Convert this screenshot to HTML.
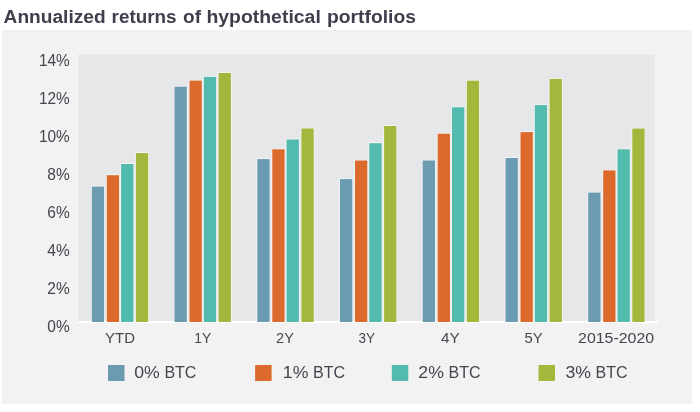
<!DOCTYPE html>
<html lang="en"><head><meta charset="utf-8"><title>Annualized returns of hypothetical portfolios</title>
<style>
html,body{margin:0;padding:0;background:#fff;}
body{width:700px;height:412px;overflow:hidden;font-family:"Liberation Sans",sans-serif;}
svg{display:block;}
text{font-family:"Liberation Sans",sans-serif;fill:#46444f;}
.t{font-weight:bold;font-size:17.5px;fill:#403e4c;}
.y{font-size:16.5px;}
.x{font-size:15px;}
.l{font-size:16.5px;}
</style></head><body>
<svg width="700" height="412" viewBox="0 0 700 412">
<rect x="0" y="0" width="700" height="412" fill="#ffffff"/>
<rect x="2" y="30" width="690" height="374" fill="#f2f2f2"/>
<rect x="78" y="54.6" width="576.7" height="267" fill="#e6e7e9"/>
<rect x="78" y="321" width="580.2" height="2" fill="#ffffff"/>
<text class="t" y="22.9"><tspan x="3.6" textLength="102" lengthAdjust="spacingAndGlyphs">Annualized</tspan> <tspan x="111.6" textLength="65" lengthAdjust="spacingAndGlyphs">returns</tspan> <tspan x="183" textLength="18" lengthAdjust="spacingAndGlyphs">of</tspan> <tspan x="206.4" textLength="114.4" lengthAdjust="spacingAndGlyphs">hypothetical</tspan> <tspan x="327" textLength="89" lengthAdjust="spacingAndGlyphs">portfolios</tspan></text>

<text class="y" x="38.9" y="66.2" textLength="30.8" lengthAdjust="spacingAndGlyphs">14%</text>
<text class="y" x="38.9" y="104.1" textLength="30.8" lengthAdjust="spacingAndGlyphs">12%</text>
<text class="y" x="38.9" y="142.0" textLength="30.8" lengthAdjust="spacingAndGlyphs">10%</text>
<text class="y" x="47.3" y="179.9" textLength="22.4" lengthAdjust="spacingAndGlyphs">8%</text>
<text class="y" x="47.3" y="217.8" textLength="22.4" lengthAdjust="spacingAndGlyphs">6%</text>
<text class="y" x="47.3" y="255.7" textLength="22.4" lengthAdjust="spacingAndGlyphs">4%</text>
<text class="y" x="47.3" y="293.6" textLength="22.4" lengthAdjust="spacingAndGlyphs">2%</text>
<text class="y" x="47.3" y="331.5" textLength="22.4" lengthAdjust="spacingAndGlyphs">0%</text>
<g fill="#f5f5f5" fill-opacity="0.9">
<rect x="91.0" y="185.7" width="14" height="135.3"/>
<rect x="106.0" y="174.3" width="14" height="146.7"/>
<rect x="120.2" y="163.1" width="14" height="157.9"/>
<rect x="135.1" y="152.2" width="14" height="168.8"/>
<rect x="173.7" y="85.8" width="14" height="235.2"/>
<rect x="188.7" y="79.7" width="14" height="241.3"/>
<rect x="203.0" y="76.0" width="14" height="245.0"/>
<rect x="217.8" y="72.1" width="14" height="248.9"/>
<rect x="256.4" y="158.2" width="14" height="162.8"/>
<rect x="271.4" y="148.4" width="14" height="172.6"/>
<rect x="285.7" y="138.6" width="14" height="182.4"/>
<rect x="300.5" y="127.6" width="14" height="193.4"/>
<rect x="339.1" y="178.2" width="14" height="142.8"/>
<rect x="354.1" y="159.6" width="14" height="161.4"/>
<rect x="368.4" y="142.3" width="14" height="178.7"/>
<rect x="383.2" y="125.1" width="14" height="195.9"/>
<rect x="421.9" y="159.6" width="14" height="161.4"/>
<rect x="436.9" y="132.8" width="14" height="188.2"/>
<rect x="451.2" y="106.4" width="14" height="214.6"/>
<rect x="466.0" y="79.8" width="14" height="241.2"/>
<rect x="504.6" y="157.1" width="14" height="163.9"/>
<rect x="519.6" y="131.2" width="14" height="189.8"/>
<rect x="533.9" y="104.2" width="14" height="216.8"/>
<rect x="548.7" y="78.0" width="14" height="243.0"/>
<rect x="587.3" y="191.7" width="14" height="129.3"/>
<rect x="602.3" y="169.5" width="14" height="151.5"/>
<rect x="616.6" y="148.4" width="14" height="172.6"/>
<rect x="631.4" y="127.7" width="14" height="193.3"/>
</g>
<rect x="91.8" y="186.6" width="12.3" height="135.4" fill="#6a9bb0"/>
<rect x="106.8" y="175.2" width="12.3" height="146.8" fill="#dc6a2c"/>
<rect x="121.1" y="164.0" width="12.3" height="158.0" fill="#52bbad"/>
<rect x="135.9" y="153.1" width="12.3" height="168.9" fill="#a2b73b"/>
<rect x="174.5" y="86.7" width="12.3" height="235.3" fill="#6a9bb0"/>
<rect x="189.5" y="80.6" width="12.3" height="241.4" fill="#dc6a2c"/>
<rect x="203.8" y="76.9" width="12.3" height="245.1" fill="#52bbad"/>
<rect x="218.6" y="73.0" width="12.3" height="249.0" fill="#a2b73b"/>
<rect x="257.3" y="159.1" width="12.3" height="162.9" fill="#6a9bb0"/>
<rect x="272.3" y="149.3" width="12.3" height="172.7" fill="#dc6a2c"/>
<rect x="286.6" y="139.5" width="12.3" height="182.5" fill="#52bbad"/>
<rect x="301.4" y="128.5" width="12.3" height="193.5" fill="#a2b73b"/>
<rect x="340.0" y="179.1" width="12.3" height="142.9" fill="#6a9bb0"/>
<rect x="355.0" y="160.5" width="12.3" height="161.5" fill="#dc6a2c"/>
<rect x="369.3" y="143.2" width="12.3" height="178.8" fill="#52bbad"/>
<rect x="384.1" y="126.0" width="12.3" height="196.0" fill="#a2b73b"/>
<rect x="422.7" y="160.5" width="12.3" height="161.5" fill="#6a9bb0"/>
<rect x="437.7" y="133.7" width="12.3" height="188.3" fill="#dc6a2c"/>
<rect x="452.0" y="107.3" width="12.3" height="214.7" fill="#52bbad"/>
<rect x="466.8" y="80.7" width="12.3" height="241.3" fill="#a2b73b"/>
<rect x="505.5" y="158.0" width="12.3" height="164.0" fill="#6a9bb0"/>
<rect x="520.5" y="132.1" width="12.3" height="189.9" fill="#dc6a2c"/>
<rect x="534.8" y="105.1" width="12.3" height="216.9" fill="#52bbad"/>
<rect x="549.6" y="78.9" width="12.3" height="243.1" fill="#a2b73b"/>
<rect x="588.2" y="192.6" width="12.3" height="129.4" fill="#6a9bb0"/>
<rect x="603.2" y="170.4" width="12.3" height="151.6" fill="#dc6a2c"/>
<rect x="617.5" y="149.3" width="12.3" height="172.7" fill="#52bbad"/>
<rect x="632.3" y="128.6" width="12.3" height="193.4" fill="#a2b73b"/>
<text class="x" x="105.1" y="343.2" textLength="29.9" lengthAdjust="spacingAndGlyphs">YTD</text>
<text class="x" x="194.2" y="343.2" textLength="17.0" lengthAdjust="spacingAndGlyphs">1Y</text>
<text class="x" x="276.1" y="343.2" textLength="17.7" lengthAdjust="spacingAndGlyphs">2Y</text>
<text class="x" x="358.6" y="343.2" textLength="16.5" lengthAdjust="spacingAndGlyphs">3Y</text>
<text class="x" x="440.9" y="343.2" textLength="18.7" lengthAdjust="spacingAndGlyphs">4Y</text>
<text class="x" x="524.5" y="343.2" textLength="18.1" lengthAdjust="spacingAndGlyphs">5Y</text>
<text class="x" x="578.1" y="343.2" textLength="76.0" lengthAdjust="spacingAndGlyphs">2015-2020</text>
<rect x="108.0" y="365" width="16.5" height="16" fill="#6a9bb0"/>
<text class="l" y="378.2"><tspan x="134.2" textLength="25.6" lengthAdjust="spacingAndGlyphs">0%</tspan> <tspan x="164.4" textLength="32.0" lengthAdjust="spacingAndGlyphs">BTC</tspan></text>
<rect x="255.1" y="365" width="16.5" height="16" fill="#dc6a2c"/>
<text class="l" y="378.2"><tspan x="282.8" textLength="25.6" lengthAdjust="spacingAndGlyphs">1%</tspan> <tspan x="313.0" textLength="32.0" lengthAdjust="spacingAndGlyphs">BTC</tspan></text>
<rect x="391.8" y="365" width="16.5" height="16" fill="#52bbad"/>
<text class="l" y="378.2"><tspan x="418.3" textLength="25.6" lengthAdjust="spacingAndGlyphs">2%</tspan> <tspan x="448.5" textLength="32.0" lengthAdjust="spacingAndGlyphs">BTC</tspan></text>
<rect x="538.5" y="365" width="16.5" height="16" fill="#a2b73b"/>
<text class="l" y="378.2"><tspan x="565.4" textLength="25.6" lengthAdjust="spacingAndGlyphs">3%</tspan> <tspan x="595.6" textLength="32.0" lengthAdjust="spacingAndGlyphs">BTC</tspan></text>
</svg></body></html>
